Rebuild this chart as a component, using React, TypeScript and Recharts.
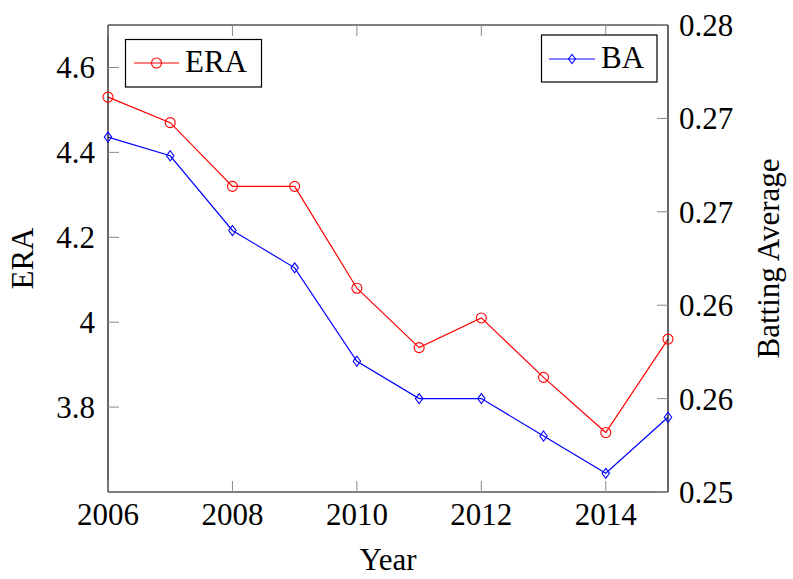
import React from 'react';
import { LineChart, Line, XAxis, YAxis, Legend } from 'recharts';

const years = [2006, 2007, 2008, 2009, 2010, 2011, 2012, 2013, 2014, 2015];
const eraValues = [4.53, 4.47, 4.32, 4.32, 4.08, 3.94, 4.01, 3.87, 3.74, 3.96];
const baValues = [0.2728, 0.2716, 0.2668, 0.2644, 0.2584, 0.256, 0.256, 0.2536, 0.2512, 0.2548];
const xTicks = [2006, 2008, 2010, 2012, 2014];
const eraTicks = [3.8, 4, 4.2, 4.4, 4.6];
const baTicks = [0.25, 0.256, 0.262, 0.268, 0.274, 0.28];
const seriesNames = { era: 'ERA', ba: 'BA' };

const data = years.map((year, i) => ({ year, era: eraValues[i], ba: baValues[i] }));

const W = 793;
const H = 579;
const FONT = '"Liberation Serif", "Times New Roman", Times, serif';
const FS = 31;
const TICK_COLOR = '#8a8a8a';
const TICK_LEN = 11;
const RED = '#ff0000';
const BLUE = '#0000ff';
const textStyle: React.CSSProperties = { fontFamily: FONT, fontSize: FS };

const fmtEra = (v: number) => String(Math.round(v * 10) / 10);
const fmtBa = (v: number) => v.toFixed(2);

const BottomTick = (props: any) => {
  const { x, y, payload } = props;
  return (
    <g>
      <line x1={x} y1={y} x2={x} y2={y - TICK_LEN} stroke={TICK_COLOR} strokeWidth={1} />
      <text x={x} y={y + 33} textAnchor="middle" style={textStyle} fill="#000">
        {payload.value}
      </text>
    </g>
  );
};

const TopTick = (props: any) => {
  const { x, y } = props;
  return <line x1={x} y1={y} x2={x} y2={y + TICK_LEN} stroke={TICK_COLOR} strokeWidth={1} />;
};

const LeftTick = (props: any) => {
  const { x, y, payload } = props;
  return (
    <g>
      <line x1={x} y1={y} x2={x + TICK_LEN} y2={y} stroke={TICK_COLOR} strokeWidth={1} />
      <text x={x - 13} y={y + 10.5} textAnchor="end" style={textStyle} fill="#000">
        {fmtEra(payload.value)}
      </text>
    </g>
  );
};

const RightTick = (props: any) => {
  const { x, y, payload } = props;
  return (
    <g>
      <line x1={x} y1={y} x2={x - TICK_LEN} y2={y} stroke={TICK_COLOR} strokeWidth={1} />
      <text x={x + 11} y={y + 11} textAnchor="start" style={textStyle} fill="#000">
        {fmtBa(payload.value)}
      </text>
    </g>
  );
};

const makeTitle = (text: string, kind: 'bottom' | 'left' | 'right') => (props: any) => {
  const vb = props.viewBox || {};
  const { x = 0, y = 0, width = 0, height = 0 } = vb;
  if (kind === 'bottom') {
    return (
      <text x={x + width / 2} y={y + 78} textAnchor="middle" style={textStyle} fill="#000">
        {text}
      </text>
    );
  }
  const cx = kind === 'left' ? x + 33 : x + 111;
  const cy = y + height / 2;
  return (
    <text
      x={cx}
      y={cy}
      transform={`rotate(-90 ${cx} ${cy})`}
      textAnchor="middle"
      style={textStyle}
      fill="#000"
    >
      {text}
    </text>
  );
};

const Diamond = (props: any) => {
  const { cx, cy, stroke, index } = props;
  if (cx == null || cy == null) return <g key={`d-${index}`} />;
  return (
    <path
      key={`d-${index}`}
      d={`M${cx},${cy - 5}L${cx + 3.7},${cy}L${cx},${cy + 5}L${cx - 3.7},${cy}Z`}
      fill="none"
      stroke={stroke}
      strokeWidth={1.1}
    />
  );
};

const legendLayout: Record<string, { bx: number; by: number; bw: number; bh: number; lx1: number; lx2: number; ly: number; tx: number; ty: number }> = {
  era: { bx: 125.5, by: 39.5, bw: 136, bh: 47.5, lx1: 134, lx2: 179, ly: 63, tx: 185, ty: 72 },
  ba: { bx: 541.5, by: 35, bw: 115.5, bh: 47, lx1: 549, lx2: 595, ly: 59, tx: 601, ty: 67.5 },
};

const LegendOverlay = (props: any) => {
  const payload = props.payload || [];
  return (
    <svg width={W} height={H} style={{ position: 'absolute', left: 0, top: 0, pointerEvents: 'none' }}>
      {payload.map((entry: any) => {
        const key = entry.dataKey as string;
        const L = legendLayout[key];
        if (!L) return null;
        const mx = (L.lx1 + L.lx2) / 2;
        return (
          <g key={key}>
            <rect x={L.bx} y={L.by} width={L.bw} height={L.bh} fill="#fff" stroke="#000" strokeWidth={1.2} />
            <line x1={L.lx1} y1={L.ly} x2={L.lx2} y2={L.ly} stroke={entry.color} strokeWidth={1.2} />
            {key === 'era' ? (
              <circle cx={mx} cy={L.ly} r={5} fill="none" stroke={entry.color} strokeWidth={1.1} />
            ) : (
              <path
                d={`M${mx},${L.ly - 4.5}L${mx + 3.5},${L.ly}L${mx},${L.ly + 4.5}L${mx - 3.5},${L.ly}Z`}
                fill="none"
                stroke={entry.color}
                strokeWidth={1.1}
              />
            )}
            <text x={L.tx} y={L.ty} style={textStyle} fill="#000">
              {entry.value}
            </text>
          </g>
        );
      })}
    </svg>
  );
};

export default function App() {
  return (
    <div style={{ position: 'absolute', left: 0, top: 0, width: W, height: H, background: '#fff', fontFamily: FONT }}>
      <LineChart width={W} height={H} data={data} margin={{ top: 0, right: 0, bottom: 0, left: 0 }} style={{ fontFamily: FONT }}>
        <XAxis
          xAxisId="bottom"
          dataKey="year"
          type="number"
          domain={[2006, 2015]}
          ticks={xTicks}
          interval={0}
          height={87}
          tickSize={0}
          tickMargin={0}
          tickLine={false}
          axisLine={{ stroke: '#000', strokeWidth: 1.2 }}
          tick={BottomTick}
          label={makeTitle('Year', 'bottom')}
        />
        <XAxis
          xAxisId="top"
          orientation="top"
          dataKey="year"
          type="number"
          domain={[2006, 2015]}
          ticks={xTicks}
          interval={0}
          allowDataOverflow
          height={25}
          tickSize={0}
          tickMargin={0}
          tickLine={false}
          axisLine={{ stroke: '#000', strokeWidth: 1.2 }}
          tick={TopTick}
        />
        <YAxis
          yAxisId="left"
          orientation="left"
          type="number"
          domain={[3.6, 4.7]}
          ticks={eraTicks}
          interval={0}
          width={108}
          tickSize={0}
          tickMargin={0}
          tickLine={false}
          axisLine={{ stroke: '#000', strokeWidth: 1.2 }}
          tick={LeftTick}
          label={makeTitle('ERA', 'left')}
        />
        <YAxis
          yAxisId="right"
          orientation="right"
          type="number"
          domain={[0.25, 0.28]}
          ticks={baTicks}
          interval={0}
          width={125}
          tickSize={0}
          tickMargin={0}
          tickLine={false}
          axisLine={{ stroke: '#000', strokeWidth: 1.2 }}
          tick={RightTick}
          label={makeTitle('Batting Average', 'right')}
        />
        <Legend
          layout="horizontal"
          verticalAlign="middle"
          align="center"
          wrapperStyle={{ left: 0, top: 0, width: W, height: 0 }}
          content={LegendOverlay}
        />
        <Line
          xAxisId="bottom"
          yAxisId="left"
          dataKey="era"
          name={seriesNames.era}
          stroke={RED}
          strokeWidth={1.2}
          type="linear"
          dot={{ r: 5, fill: 'none', stroke: RED, strokeWidth: 1.1 }}
          activeDot={false}
          isAnimationActive={false}
        />
        <Line
          xAxisId="bottom"
          yAxisId="right"
          dataKey="ba"
          name={seriesNames.ba}
          stroke={BLUE}
          strokeWidth={1.2}
          type="linear"
          dot={Diamond}
          activeDot={false}
          isAnimationActive={false}
        />
      </LineChart>
    </div>
  );
}
